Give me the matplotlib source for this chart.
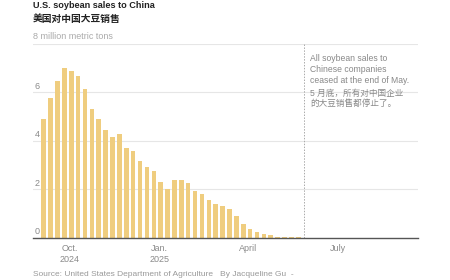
import pandas as pd
import numpy as np
import matplotlib.pyplot as plt
import matplotlib.dates as mdates
import matplotlib.transforms as mtransforms

plt.rcParams['font.family'] = ['Liberation Sans', 'Noto Sans CJK SC', 'DejaVu Sans']

# weekly soybean sales to China, million metric tons (week ending)
weeks = pd.date_range("2024-09-05", periods=38, freq="7D")
sales = [4.89, 5.78, 6.47, 7.01, 6.89, 6.66, 6.16, 5.33, 4.90, 4.46,
         4.17, 4.28, 3.71, 3.57, 3.19, 2.91, 2.77, 2.30, 2.02, 2.41,
         2.41, 2.26, 1.95, 1.83, 1.55, 1.41, 1.33, 1.20, 0.92, 0.57,
         0.38, 0.26, 0.18, 0.11, 0.05, 0.05, 0.05, 0.04]

tick_dates = pd.to_datetime(["2024-10-01", "2025-01-01", "2025-04-01", "2025-07-01"])
tick_labels = ["Oct.\n2024", "Jan.\n2025", "April", "July"]
y_ticks = [0, 2, 4, 6]
cutoff = pd.Timestamp("2025-05-28")

bar_color = "#efcd7f"
grey = "#8a8a8a"

fig = plt.figure(figsize=(4.5, 2.8), dpi=100)
ax = fig.add_axes([0.0733, 0.15, 0.929 - 0.0733, 0.843 - 0.15])

ax.bar(weeks, sales, width=4.7, color=bar_color, zorder=3)

ax.set_xlim(pd.Timestamp("2024-08-25"), pd.Timestamp("2025-09-21"))
ax.set_ylim(0, 8)

# gridlines
for v in [2, 4, 6, 8]:
    ax.axhline(v, color="#e6e6e6", lw=0.8, zorder=1)

for s in ["top", "right", "left"]:
    ax.spines[s].set_visible(False)
ax.spines["bottom"].set_color("#555555")
ax.spines["bottom"].set_linewidth(1.0)
ax.spines["bottom"].set_zorder(4)

ax.set_yticks([])
ax.set_xticks(tick_dates)
ax.set_xticklabels(tick_labels, fontsize=6.5, color=grey, linespacing=1.3)
ax.tick_params(axis="x", length=0, pad=4)

# y labels sitting on gridlines
trans = mtransforms.blended_transform_factory(ax.transAxes, ax.transData)
for v in y_ticks:
    ax.text(0.005, v + 0.08, str(v), transform=trans, fontsize=6.5,
            color=grey, ha="left", va="bottom")
ax.text(0.0, 8.12, "8 million metric tons", transform=trans, fontsize=6.5,
        color="#aaaaaa", ha="left", va="bottom")

# end of May marker
ax.axvline(cutoff, ymin=0, ymax=1, color="#aaaaaa", lw=0.7,
           linestyle=(0, (1.5, 1.5)), zorder=2)
ax.text(cutoff + pd.Timedelta(days=6), 7.6,
        "All soybean sales to\nChinese companies\nceased at the end of May.",
        fontsize=6.2, color="#888888", ha="left", va="top", linespacing=1.3)
ax.text(cutoff + pd.Timedelta(days=6), 6.15,
        "5 月底，所有对中国企业\n的大豆销售都停止了。",
        fontsize=6.2, color="#888888", ha="left", va="top", linespacing=1.1)

fig.text(0.0733, 0.982, "U.S. soybean sales to China", fontsize=6.6,
         fontweight="bold", color="#222222", ha="left", va="center")
fig.text(0.0733, 0.932, "美国对中国大豆销售", fontsize=7.0,
         fontweight="bold", color="#222222", ha="left", va="center")
fig.text(0.0733, 0.018,
         "Source: United States Department of Agriculture   By Jacqueline Gu  -",
         fontsize=6.0, color="#999999", ha="left", va="center")

fig.savefig("out.png", dpi=100)
